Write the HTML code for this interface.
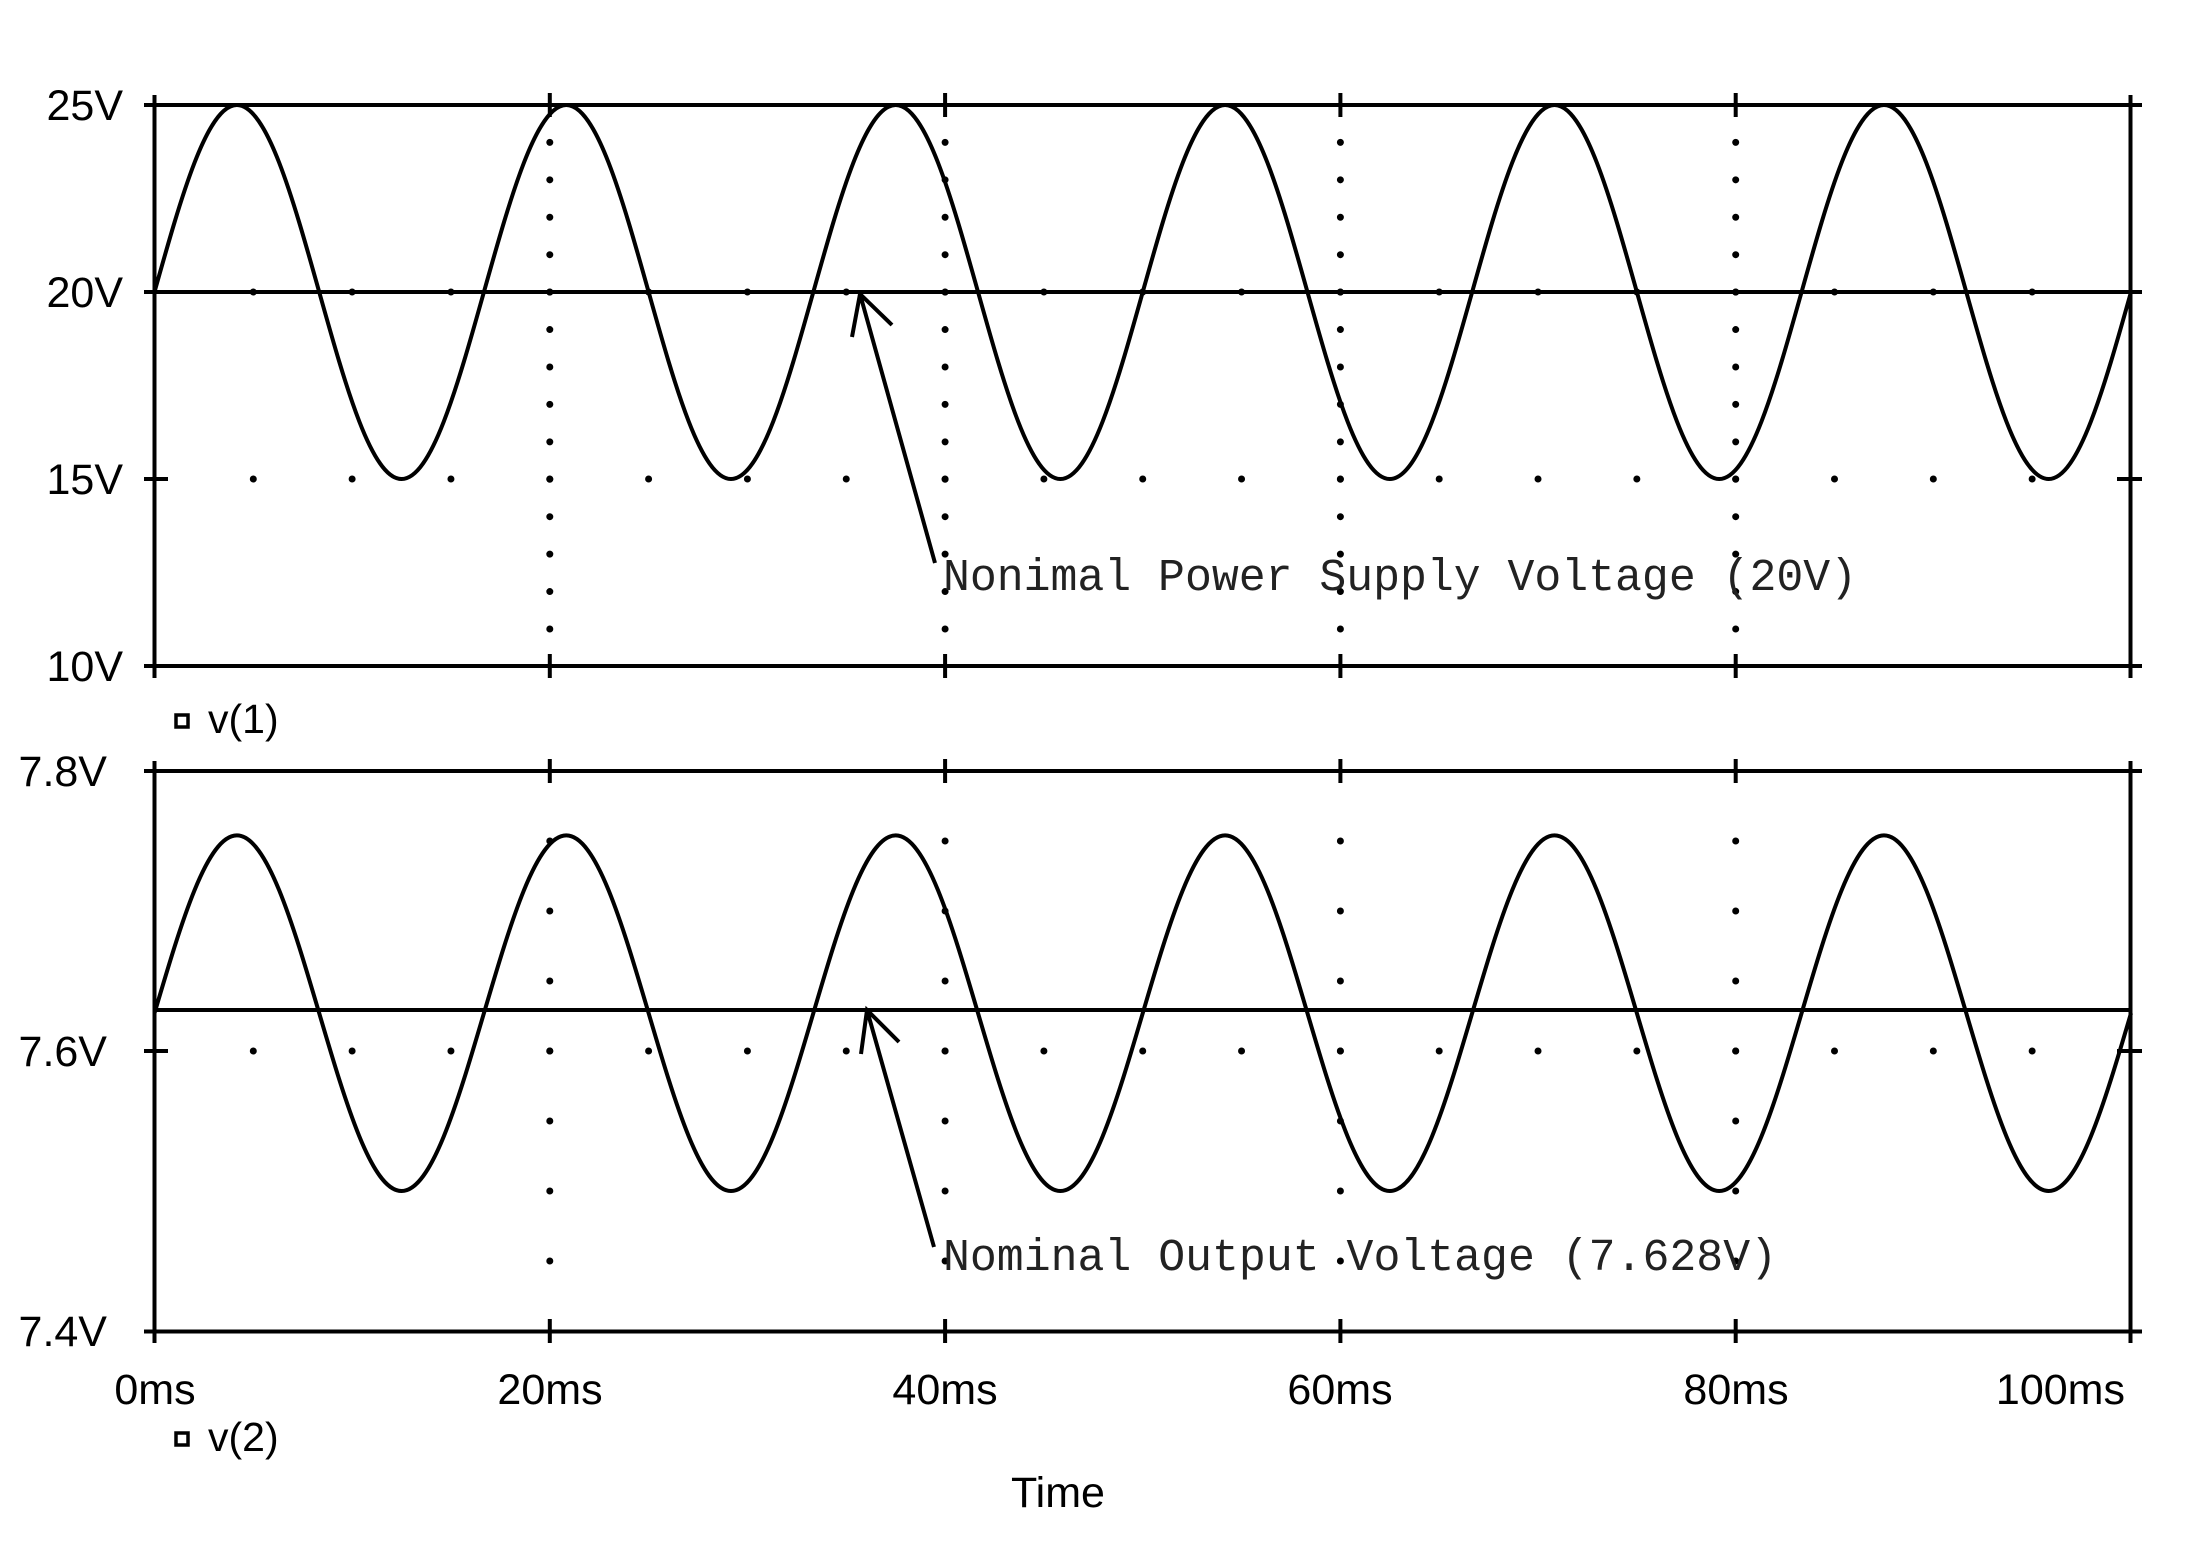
<!DOCTYPE html>
<html><head><meta charset="utf-8"><style>
html,body{margin:0;padding:0;background:#fff;}
svg{display:block;}
.lbl{font-family:"Liberation Sans",Arial,sans-serif;font-size:43px;fill:#000;}
.ann{font-family:"Liberation Mono",monospace;font-size:45px;fill:#222;}
</style></head><body>
<svg width="2206" height="1542" viewBox="0 0 2206 1542" xmlns="http://www.w3.org/2000/svg">
<rect width="2206" height="1542" fill="#fff"/>
<g stroke="#000" stroke-linecap="round" fill="none">
<g stroke-width="7" stroke-dasharray="0 37.43">
<line x1="549.8" y1="142.4" x2="549.8" y2="630"/>
<line x1="945.1" y1="142.4" x2="945.1" y2="630"/>
<line x1="1340.4" y1="142.4" x2="1340.4" y2="630"/>
<line x1="1735.7" y1="142.4" x2="1735.7" y2="630"/>
</g>
<g stroke-width="7" stroke-dasharray="0 98.825">
<line x1="253.3" y1="292" x2="2033" y2="292"/>
<line x1="253.3" y1="479" x2="2033" y2="479"/>
<line x1="253.3" y1="1051" x2="2033" y2="1051"/>
</g>
<g stroke-width="7" stroke-dasharray="0 70">
<line x1="549.8" y1="841" x2="549.8" y2="1262"/>
<line x1="945.1" y1="841" x2="945.1" y2="1262"/>
<line x1="1340.4" y1="841" x2="1340.4" y2="1262"/>
<line x1="1735.7" y1="841" x2="1735.7" y2="1262"/>
</g>
</g>
<g stroke="#000" stroke-width="4" fill="none" stroke-linecap="butt">
<line x1="144" y1="105" x2="2142" y2="105"/>
<line x1="144" y1="666" x2="2142" y2="666"/>
<line x1="154.5" y1="95" x2="154.5" y2="678"/>
<line x1="2130.5" y1="95" x2="2130.5" y2="678"/>
<line x1="144" y1="292" x2="2142" y2="292"/>
<line x1="144" y1="479" x2="168" y2="479"/>
<line x1="2117" y1="479" x2="2142" y2="479"/>
<path d="M549.8 93V117M945.1 93V117M1340.4 93V117M1735.7 93V117M549.8 654V678M945.1 654V678M1340.4 654V678M1735.7 654V678"/>
<line x1="144" y1="771" x2="2142" y2="771"/>
<line x1="144" y1="1331.5" x2="2142" y2="1331.5"/>
<line x1="154.5" y1="761" x2="154.5" y2="1343"/>
<line x1="2130.5" y1="761" x2="2130.5" y2="1343"/>
<line x1="154.5" y1="1010" x2="2130.5" y2="1010"/>
<line x1="144" y1="1051" x2="168" y2="1051"/>
<line x1="2117" y1="1051" x2="2142" y2="1051"/>
<path d="M549.8 759V783M945.1 759V783M1340.4 759V783M1735.7 759V783M549.8 1319V1343M945.1 1319V1343M1340.4 1319V1343M1735.7 1319V1343"/>
<path stroke-linejoin="round" d="M154.5,292
c26.86,-95.8 52.55,-187 82.354,-187 c29.8,0 55.49,91.2 82.354,187 c26.86,95.8 52.55,187 82.354,187 c29.8,0 55.49,-91.2 82.354,-187
c26.86,-95.8 52.55,-187 82.354,-187 c29.8,0 55.49,91.2 82.354,187 c26.86,95.8 52.55,187 82.354,187 c29.8,0 55.49,-91.2 82.354,-187
c26.86,-95.8 52.55,-187 82.354,-187 c29.8,0 55.49,91.2 82.354,187 c26.86,95.8 52.55,187 82.354,187 c29.8,0 55.49,-91.2 82.354,-187
c26.86,-95.8 52.55,-187 82.354,-187 c29.8,0 55.49,91.2 82.354,187 c26.86,95.8 52.55,187 82.354,187 c29.8,0 55.49,-91.2 82.354,-187
c26.86,-95.8 52.55,-187 82.354,-187 c29.8,0 55.49,91.2 82.354,187 c26.86,95.8 52.55,187 82.354,187 c29.8,0 55.49,-91.2 82.354,-187
c26.86,-95.8 52.55,-187 82.354,-187 c29.8,0 55.49,91.2 82.354,187 c26.86,95.8 52.55,187 82.354,187 c29.8,0 55.49,-91.2 82.354,-187"/>
<path stroke-linejoin="round" d="M154.5,1013.2
c26.86,-91.09 52.55,-177.8 82.354,-177.8 c29.8,0 55.49,86.71 82.354,177.8 c26.86,91.09 52.55,177.8 82.354,177.8 c29.8,0 55.49,-86.71 82.354,-177.8
c26.86,-91.09 52.55,-177.8 82.354,-177.8 c29.8,0 55.49,86.71 82.354,177.8 c26.86,91.09 52.55,177.8 82.354,177.8 c29.8,0 55.49,-86.71 82.354,-177.8
c26.86,-91.09 52.55,-177.8 82.354,-177.8 c29.8,0 55.49,86.71 82.354,177.8 c26.86,91.09 52.55,177.8 82.354,177.8 c29.8,0 55.49,-86.71 82.354,-177.8
c26.86,-91.09 52.55,-177.8 82.354,-177.8 c29.8,0 55.49,86.71 82.354,177.8 c26.86,91.09 52.55,177.8 82.354,177.8 c29.8,0 55.49,-86.71 82.354,-177.8
c26.86,-91.09 52.55,-177.8 82.354,-177.8 c29.8,0 55.49,86.71 82.354,177.8 c26.86,91.09 52.55,177.8 82.354,177.8 c29.8,0 55.49,-86.71 82.354,-177.8
c26.86,-91.09 52.55,-177.8 82.354,-177.8 c29.8,0 55.49,86.71 82.354,177.8 c26.86,91.09 52.55,177.8 82.354,177.8 c29.8,0 55.49,-86.71 82.354,-177.8"/>
<path d="M935,563 L860,294 M852,337 L860,294 L892,325"/>
<path d="M934,1247 L867,1010 M861,1054 L867,1010 L899,1042"/>
<rect x="176" y="715" width="12" height="12" stroke-width="3.5"/>
<rect x="176" y="1433" width="12" height="12" stroke-width="3.5"/>
</g>
<g class="lbl">
<text x="123" y="120" text-anchor="end">25V</text>
<text x="123" y="307" text-anchor="end">20V</text>
<text x="123" y="494" text-anchor="end">15V</text>
<text x="123" y="681" text-anchor="end">10V</text>
<text x="107" y="786" text-anchor="end">7.8V</text>
<text x="107" y="1066" text-anchor="end">7.6V</text>
<text x="107" y="1346" text-anchor="end">7.4V</text>
<text x="155" y="1404" text-anchor="middle">0ms</text>
<text x="550" y="1404" text-anchor="middle">20ms</text>
<text x="945" y="1404" text-anchor="middle">40ms</text>
<text x="1340" y="1404" text-anchor="middle">60ms</text>
<text x="1736" y="1404" text-anchor="middle">80ms</text>
<text x="2125" y="1404" text-anchor="end">100ms</text>
<text x="1058" y="1507" text-anchor="middle">Time</text>
<text x="208" y="733" style="font-size:41px">v(1)</text>
<text x="208" y="1451" style="font-size:41px">v(2)</text>
</g>
<text class="ann" x="943" y="590" textLength="914" lengthAdjust="spacingAndGlyphs">Nonimal Power Supply Voltage (20V)</text>
<text class="ann" x="943" y="1270" textLength="834" lengthAdjust="spacingAndGlyphs">Nominal Output Voltage (7.628V)</text>
</svg>
</body></html>
